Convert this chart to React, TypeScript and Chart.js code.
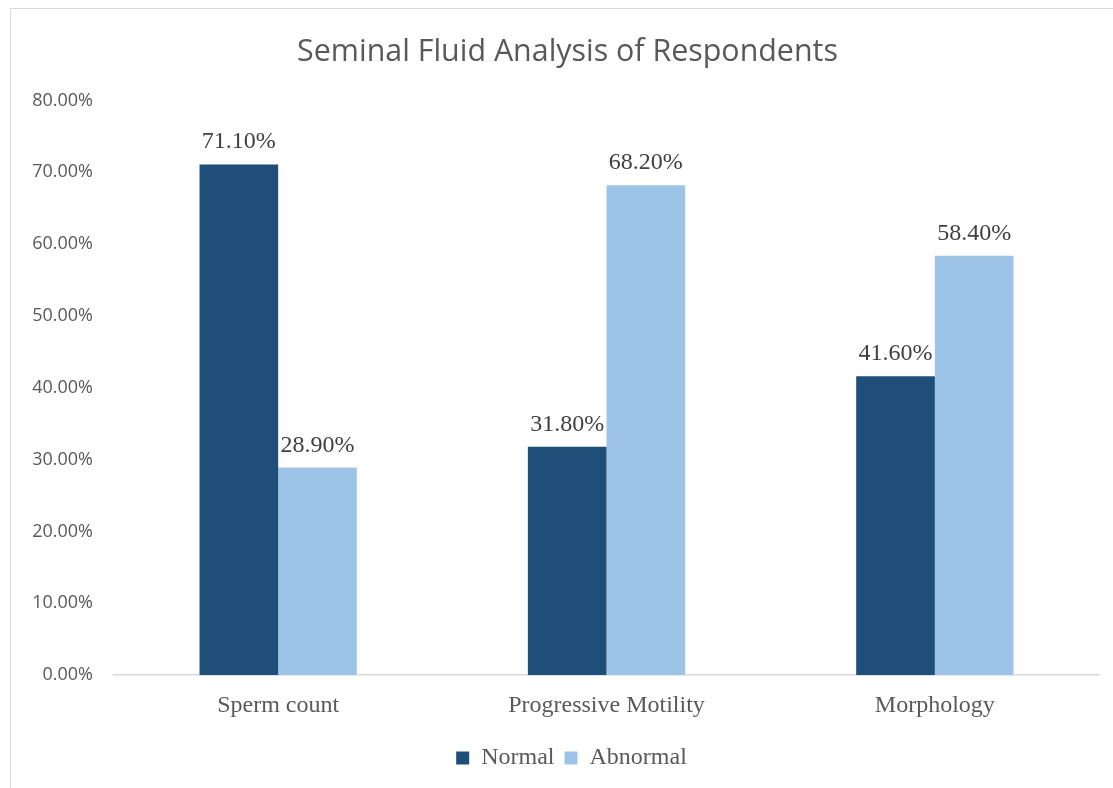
import React, { useEffect, useRef } from "react";
import { Chart, registerables } from "chart.js";

Chart.register(...registerables);

const categories = ["Sperm count", "Progressive Motility", "Morphology"];
const normalValues = [71.1, 31.8, 41.6];
const abnormalValues = [28.9, 68.2, 58.4];
const seriesNames = ["Normal", "Abnormal"];
const titleText = "Seminal Fluid Analysis of Respondents";

const dataLabelPlugin = {
  id: "dataLabels",
  afterDatasetsDraw(chart: any) {
    const ctx = chart.ctx;
    ctx.save();
    ctx.font = "24px 'Liberation Serif', 'Times New Roman', serif";
    ctx.fillStyle = "#404040";
    ctx.textAlign = "center";
    ctx.textBaseline = "alphabetic";
    chart.data.datasets.forEach((ds: any, i: number) => {
      const meta = chart.getDatasetMeta(i);
      meta.data.forEach((bar: any, j: number) => {
        const v = ds.data[j] as number;
        ctx.fillText(v.toFixed(2) + "%", bar.x, bar.y - 16);
      });
    });
    ctx.restore();
  },
};

const boxShiftPlugin = {
  id: "boxShift",
  afterLayout(chart: any) {
    const l = chart.legend;
    if (l) {
      l.left += 22;
      l.right += 22;
    }
    const t = chart.titleBlock;
    if (t) {
      t.left += 18;
      t.right += 18;
    }
  },
};

export default function App() {
  const ref = useRef<HTMLCanvasElement | null>(null);
  useEffect(() => {
    if (!ref.current) return;
    const chart = new Chart(ref.current, {
      type: "bar",
      data: {
        labels: categories,
        datasets: [
          {
            label: seriesNames[0],
            data: normalValues,
            backgroundColor: "#1F4E79",
            categoryPercentage: 0.479,
            barPercentage: 1,
          },
          {
            label: seriesNames[1],
            data: abnormalValues,
            backgroundColor: "#9DC3E6",
            categoryPercentage: 0.479,
            barPercentage: 1,
          },
        ],
      },
      options: {
        animation: false,
        responsive: false,
        maintainAspectRatio: false,
        layout: { padding: { left: 0, right: 14, top: 0, bottom: 8 } },
        plugins: {
          title: {
            display: true,
            text: titleText,
            color: "#595959",
            font: { family: "'Open Sans', sans-serif", size: 30.4, weight: "normal" as any },
            padding: { top: 34, bottom: 30 },
          },
          legend: {
            display: true,
            position: "bottom",
            labels: {
              color: "#595959",
              font: { family: "'Liberation Serif', 'Times New Roman', serif", size: 24 },
              boxWidth: 13,
              boxHeight: 13,
              padding: 10,
            },
          },
          tooltip: { enabled: false },
        },
        scales: {
          x: {
            grid: { display: false, drawTicks: false },
            border: { display: true, color: "#D9D9D9", width: 1.5 },
            ticks: {
              color: "#595959",
              font: { family: "'Liberation Serif', 'Times New Roman', serif", size: 24 },
              padding: 16,
            },
          },
          y: {
            min: 0,
            max: 80,
            grid: { display: false, drawTicks: false },
            border: { display: false },
            afterFit: (s: any) => {
              s.width = 114;
            },
            ticks: {
              stepSize: 10,
              color: "#595959",
              font: { family: "'Open Sans', sans-serif", size: 18 },
              padding: 21,
              callback: (v: any) => Number(v).toFixed(2) + "%",
            },
          },
        },
      },
      plugins: [dataLabelPlugin, boxShiftPlugin],
    });
    return () => chart.destroy();
  }, []);
  return (
    <div
      style={{
        position: "fixed",
        left: 0,
        top: 0,
        width: 1113,
        height: 788,
        overflow: "hidden",
        background: "#fff",
      }}
    >
      <div
        style={{
          position: "absolute",
          left: 10,
          top: 8,
          width: 1200,
          height: 900,
          border: "1.5px solid #D9D9D9",
          boxSizing: "border-box",
        }}
      />
      <canvas
        ref={ref}
        width={1113}
        height={788}
        style={{ position: "absolute", left: 0, top: 0, width: 1113, height: 788 }}
      />
    </div>
  );
}
